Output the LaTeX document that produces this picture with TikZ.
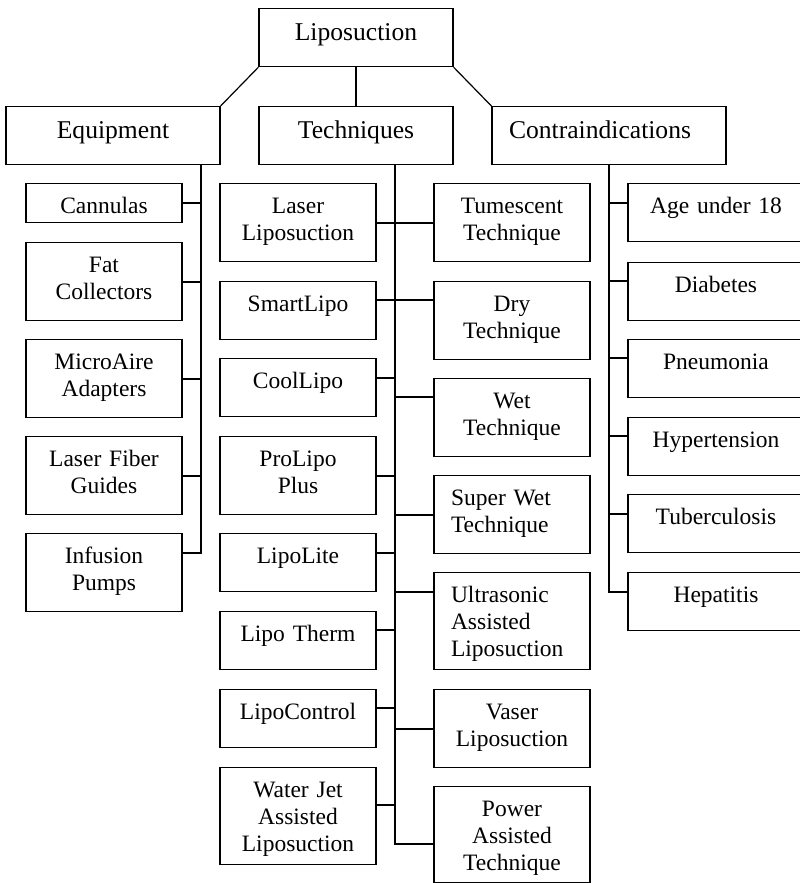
\documentclass[tikz,border=0pt]{standalone}
\usepackage{fontspec}
\setmainfont{Liberation Serif}
\usetikzlibrary{calc}
\newcommand{\headfont}{\fontsize{25.6}{29}\selectfont}
\newcommand{\leaffont}{\fontsize{23.5}{27}\selectfont}

\begin{document}
\begin{tikzpicture}[x=1pt, y=-1pt,
        headbox/.style={draw, line width=1.2pt, anchor=north, inner xsep=17pt, inner ysep=0pt,
                        align=center, font=\headfont, text height=32pt, text depth=26pt},
        leafbox/.style={draw, line width=1.2pt, anchor=north, inner xsep=17pt, inner ysep=0pt,
                        text width=122pt, align=center, font=\leaffont, text height=30pt, text depth=#1},
        leafbox/.default=48pt,
        wideleaf/.style={leafbox=28pt, text width=142pt},
        link/.style={line width=1.8pt},
        thinlink/.style={line width=1.2pt}
      ]
        \useasboundingbox (0,0) rectangle (800,883);
        \node[headbox, text width=160pt] (lipo)   at (356,8)   {Liposuction};
        \node[headbox, text width=180pt] (equip)  at (113,106) {Equipment};
        \node[headbox, text width=160pt] (tech)   at (356,106) {Techniques};
        \node[headbox, text width=200pt, align=left] (contra) at (609,106) {Contraindications};
        \draw[thinlink] (lipo.south west) -- (equip.north east);
        \draw[thinlink] (lipo.south) -- (tech.north);
        \draw[thinlink] (lipo.south east) -- (contra.north west);

        % equipment
        \node[leafbox=9pt] (cann)  at (104,183) {Cannulas};
        \node[leafbox]     (fat)   at (104,242) {Fat\\Collectors};
        \node[leafbox]     (micro) at (104,339) {MicroAire\\Adapters};
        \node[leafbox]     (fiber) at (104,436) {Laser Fiber\\Guides};
        \node[leafbox]     (pump)  at (104,533) {Infusion\\Pumps};
        \coordinate (eqroot) at (201,164);
        \draw[link] (cann.east)  -| (eqroot);
        \draw[link] (fat.east)   -| (eqroot);
        \draw[link] (micro.east) -| (eqroot);
        \draw[link] (fiber.east) -| (eqroot);
        \draw[link] ([yshift=-20pt]pump.north east) -| (eqroot);

        % techniques
        \node[leafbox]      (laser)   at (298,183) {Laser\\Liposuction};
        \node[leafbox=28pt] (smart)   at (298,281) {SmartLipo};
        \node[leafbox=28pt] (cool)    at (298,358) {CoolLipo};
        \node[leafbox]      (prolipo) at (298,436) {ProLipo\\Plus};
        \node[leafbox=28pt] (lite)    at (298,533) {LipoLite};
        \node[leafbox=28pt] (therm)   at (298,611) {Lipo Therm};
        \node[leafbox=28pt] (control) at (298,689) {LipoControl};
        \node[leafbox=67pt] (jet)     at (298,767) {Water Jet\\Assisted\\Liposuction};
        \node[leafbox]      (tumes)    at (512,183) {Tumescent\\Technique};
        \node[leafbox]      (dry)      at (512,281) {Dry\\Technique};
        \node[leafbox]      (wet)      at (512,378) {Wet\\Technique};
        \node[leafbox, align=left]      (superwet) at (512,475) {Super Wet\\Technique};
        \node[leafbox=67pt, align=left] (ultra)    at (512,572) {Ultrasonic\\Assisted\\Liposuction};
        \node[leafbox]      (vaser)    at (512,689) {Vaser\\Liposuction};
        \node[leafbox=66pt] (power)    at (512,786) {Power\\Assisted\\Technique};
        \coordinate (teroot) at (395,164);
        \draw[link] (laser.east) -| (teroot);
        \draw[link] ([yshift=-19pt]smart.north east) -| (teroot);
        \draw[link] ([yshift=-20pt]cool.north east) -| (teroot);
        \draw[link] (prolipo.east) -| (teroot);
        \draw[link] ([yshift=-20pt]lite.north east) -| (teroot);
        \draw[link] ([yshift=-19pt]therm.north east) -| (teroot);
        \draw[link] ([yshift=-19pt]control.north east) -| (teroot);
        \draw[link] ([yshift=-38pt]jet.north east) -| (teroot);
        \draw[link] (tumes.west) -| (teroot);
        \draw[link] ([yshift=-19pt]dry.north west) -| (teroot);
        \draw[link] ([yshift=-19pt]wet.north west) -| (teroot);
        \draw[link] (superwet.west) -| (teroot);
        \draw[link] ([yshift=-20pt]ultra.north west) -| (teroot);
        \draw[link] (vaser.west) -| (teroot);
        \draw[link] ([yshift=-58pt]power.north west) -| (teroot);

        % contraindications
        \node[wideleaf] (age)   at (716,183) {Age under 18};
        \node[wideleaf] (diab)  at (716,262) {Diabetes};
        \node[wideleaf] (pneu)  at (716,339) {Pneumonia};
        \node[wideleaf] (hyper) at (716,417) {Hypertension};
        \node[wideleaf] (tuber) at (716,494) {Tuberculosis};
        \node[wideleaf] (hepa)  at (716,572) {Hepatitis};
        \draw[thinlink] ([yshift=-20pt]age.north west)   -| (contra.south);
        \draw[thinlink] ([yshift=-19pt]diab.north west)  -| (contra.south);
        \draw[thinlink] ([yshift=-19pt]pneu.north west)  -| (contra.south);
        \draw[thinlink] ([yshift=-19pt]hyper.north west) -| (contra.south);
        \draw[thinlink] ([yshift=-20pt]tuber.north west) -| (contra.south);
        \draw[thinlink] ([yshift=-20pt]hepa.north west)  -| (contra.south);
      \end{tikzpicture}
\end{document}
